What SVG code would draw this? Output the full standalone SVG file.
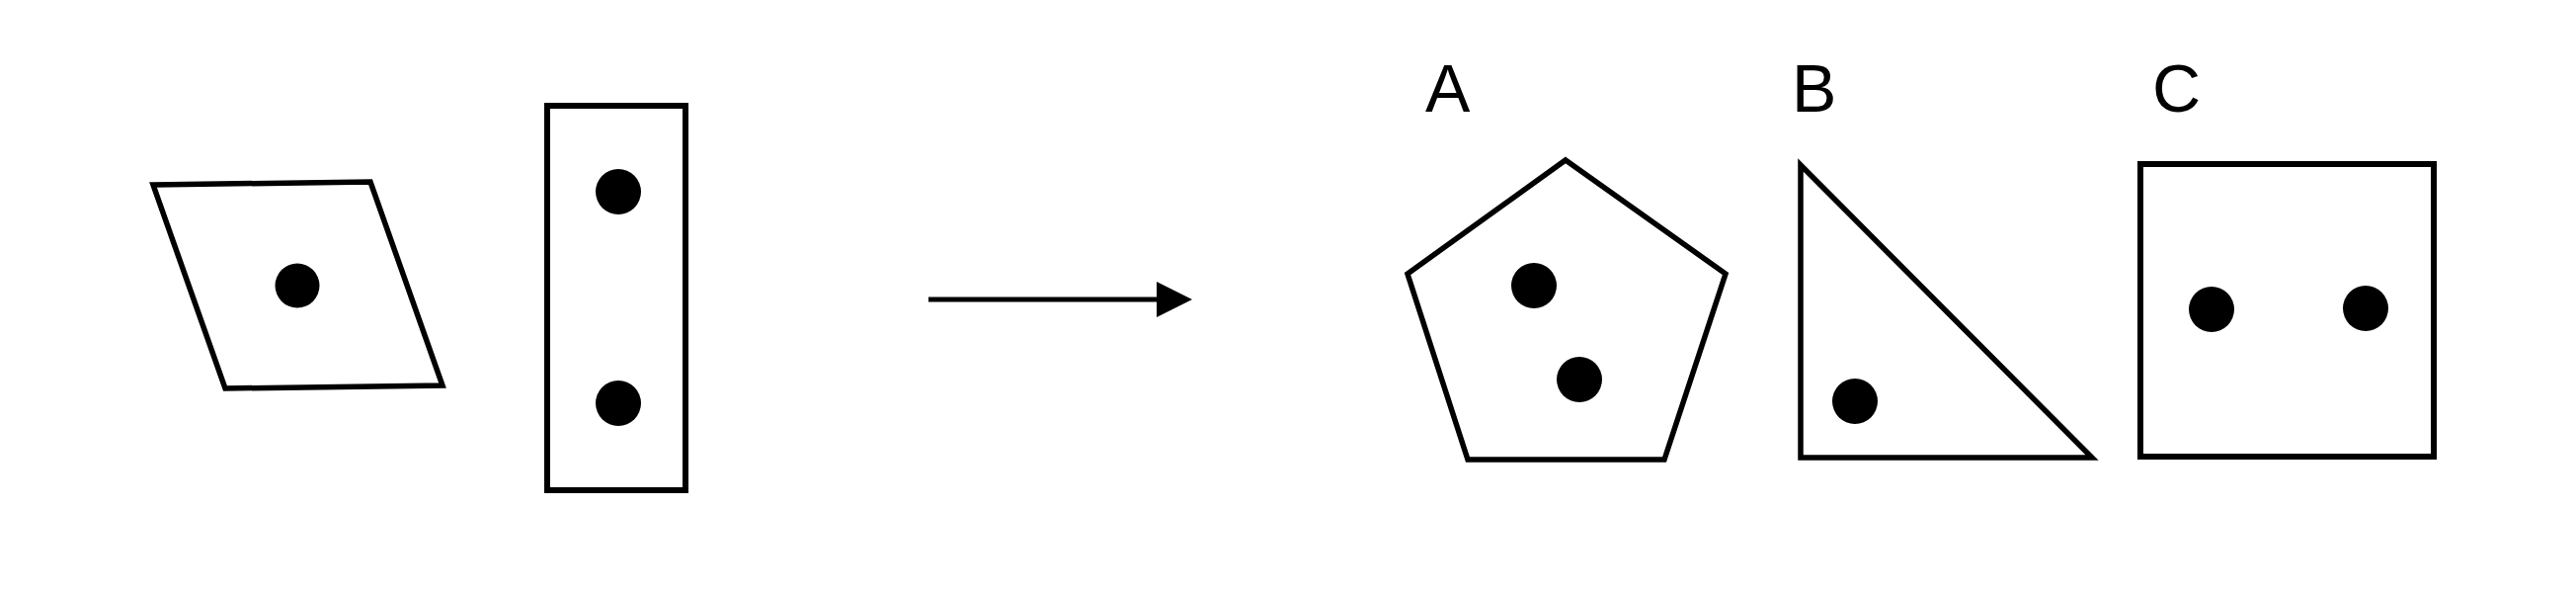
<svg xmlns="http://www.w3.org/2000/svg" width="2608" height="600" viewBox="0 0 2608 600">
<style>
.shape{fill:#fff;stroke:#000;stroke-width:5.5;stroke-linejoin:miter}
.dot{fill:#000}
.lbl{font-family:"Liberation Sans",Arial,sans-serif;font-size:68px;fill:#000}
</style>
<rect width="2608" height="600" fill="#fff"/>
<g id="para">
<polygon class="shape" points="155,187 375,184 448,390 228,393"/>
<circle class="dot" cx="301" cy="289" r="22.5"/>
</g>
<g id="tallrect">
<rect class="shape" x="554" y="107" width="140" height="389" style="stroke-width:6"/>
<circle class="dot" cx="626" cy="194" r="23"/>
<circle class="dot" cx="626" cy="408" r="23"/>
</g>
<g id="connectors">
<line x1="940" y1="303" x2="1175" y2="303" stroke="#000" stroke-width="5"/>
<polygon points="1171,285 1207,303 1171,321" fill="#000"/>
</g>
<g id="optA">
<text class="lbl" x="1443" y="113">A</text>
<polygon class="shape" points="1585,162 1747,277 1685,465 1486,465 1425,277"/>
<circle class="dot" cx="1553" cy="289" r="23"/>
<circle class="dot" cx="1599" cy="384" r="23"/>
</g>
<g id="optB">
<text class="lbl" x="1814" y="113">B</text>
<polygon class="shape" points="1823,167 2118,463 1823,463"/>
<circle class="dot" cx="1878" cy="406" r="23"/>
</g>
<g id="optC">
<text class="lbl" x="2179" y="113">C</text>
<rect class="shape" x="2167" y="166" width="297" height="296" style="stroke-width:6"/>
<circle class="dot" cx="2239" cy="313" r="23"/>
<circle class="dot" cx="2395" cy="312" r="23"/>
</g>
</svg>
